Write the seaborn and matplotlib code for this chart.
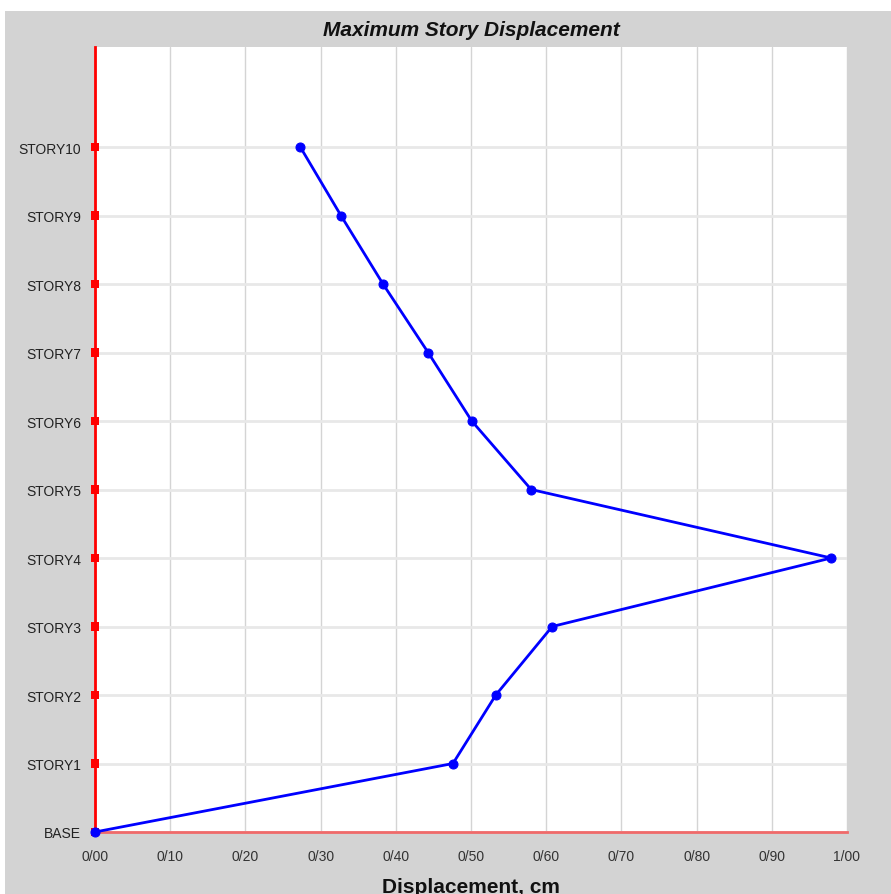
import matplotlib
matplotlib.use("Agg")
import matplotlib.pyplot as plt
import seaborn as sns
import pandas as pd
from matplotlib.patches import Rectangle

stories = ["BASE", "STORY1", "STORY2", "STORY3", "STORY4", "STORY5",
           "STORY6", "STORY7", "STORY8", "STORY9", "STORY10"]
displacement = [0.0, 0.476, 0.533, 0.608, 0.979, 0.580,
                0.501, 0.443, 0.383, 0.327, 0.273]
x_ticks = [0.0, 0.1, 0.2, 0.3, 0.4, 0.5, 0.6, 0.7, 0.8, 0.9, 1.0]
x_tick_labels = ["0/00", "0/10", "0/20", "0/30", "0/40", "0/50",
                 "0/60", "0/70", "0/80", "0/90", "1/00"]

df = pd.DataFrame({"story": stories,
                   "level": list(range(len(stories))),
                   "disp": displacement})

sns.set_style("white")
plt.rcParams["font.family"] = ["Liberation Sans", "DejaVu Sans"]

fig = plt.figure(figsize=(8.91, 8.95), dpi=100, facecolor="#d3d3d3")
# white strips at top and left edge
fig.patches.append(Rectangle((0, 1 - 12 / 895), 1, 12 / 895,
                             transform=fig.transFigure, facecolor="white",
                             edgecolor="none", zorder=-10))
fig.patches.append(Rectangle((0, 0), 5 / 891, 1,
                             transform=fig.transFigure, facecolor="white",
                             edgecolor="none", zorder=-10))
ax = fig.add_axes([95 / 891, 62 / 895, 752 / 891, 785 / 895])
ax.set_facecolor("white")

# grid
ax.set_axisbelow(True)
ax.grid(axis="x", color="#d4d4d4", linewidth=1.0)
ax.grid(axis="y", color="#e8e8e8", linewidth=2.0)

# red base line along x=0
sns.lineplot(data=df, x=[0.0] * len(df), y="level", color="red",
             linewidth=2, sort=False, ax=ax, zorder=3)
sns.scatterplot(data=df, x=[0.0] * len(df), y="level", color="red",
                marker="s", s=34, edgecolor="none", ax=ax, zorder=7,
                clip_on=False)

# displacement profile
sns.lineplot(data=df, x="disp", y="level", sort=False, color="blue",
             linewidth=2, marker="o", markersize=6.5, markeredgecolor="blue",
             ax=ax, zorder=8, clip_on=False)

ax.set_xlim(0, 1.0)
ax.set_ylim(0, 11.46)
ax.set_xticks(x_ticks)
ax.set_xticklabels(x_tick_labels, fontsize=10, color="#333333")
ax.set_yticks(df["level"])
ax.set_yticklabels(df["story"], fontsize=10, color="#222222")
ax.tick_params(axis="both", length=5, width=1, color="#444444",
               direction="out")
ax.tick_params(axis="x", pad=7)
ax.tick_params(axis="y", pad=5)

for side in ["top", "right"]:
    ax.spines[side].set_visible(False)
ax.spines["left"].set_color("red")
ax.spines["left"].set_linewidth(2)
ax.spines["bottom"].set_color("#f06a6a")
ax.spines["bottom"].set_linewidth(2)
ax.spines["left"].set_zorder(6)

ax.set_xlabel("Displacement, cm", fontsize=15, fontweight="bold",
              labelpad=10, color="#111111")
ax.set_ylabel("")
fig.text(471 / 891, 1 - 30 / 895, "Maximum Story Displacement",
         ha="center", va="center", fontsize=15, fontweight="bold",
         fontstyle="italic", color="#111111")

fig.savefig("out.png", dpi=100, facecolor=fig.get_facecolor())
